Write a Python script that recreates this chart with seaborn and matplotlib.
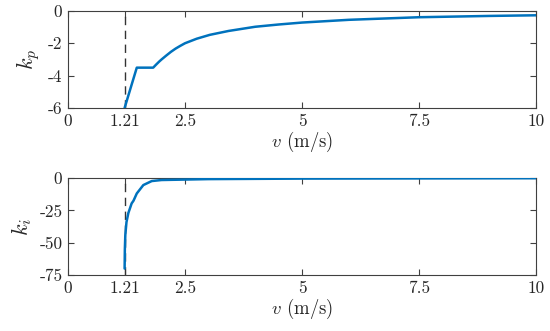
import numpy as np
import pandas as pd
import matplotlib
matplotlib.use('Agg')
import matplotlib.pyplot as plt
import seaborn as sns

# values
kp_v = [1.21, 1.47, 1.82, 1.88, 1.95, 2.0, 2.1, 2.2, 2.3, 2.4, 2.5, 2.75, 3.03, 3.43, 4.0, 4.5, 5.0, 6.0, 7.5, 9.0, 10.0]
kp = [-6.0, -3.51, -3.51, -3.33, -3.13, -3.0, -2.76, -2.53, -2.33, -2.16, -2.0, -1.72, -1.48, -1.24, -0.98, -0.84, -0.72, -0.55, -0.39, -0.31, -0.27]

ki_v = [1.21, 1.215, 1.225, 1.25, 1.29, 1.36, 1.40, 1.47, 1.61, 1.79, 2.0, 3.0, 5.0, 10.0]
ki = [-70, -55, -44, -34, -27, -19.6, -17.5, -11.9, -5.4, -2.3, -1.5, -0.8, -0.4, -0.1]

x_ticks = [0, 1.21, 2.5, 5, 7.5, 10]
x_labels = ['0', '1.21', '2.5', '5', '7.5', '10']
kp_ticks = [0, -2, -4, -6]
ki_ticks = [0, -25, -50, -75]
v_crit = 1.21

sns.set_style('ticks')
plt.rcParams['font.family'] = ['cmr10', 'DejaVu Serif']
plt.rcParams['mathtext.fontset'] = 'cm'
plt.rcParams['axes.unicode_minus'] = False
plt.rcParams['axes.formatter.use_mathtext'] = True

blue = '#0072BD'
edge = '#404040'

fig = plt.figure(figsize=(5.5, 3.31), dpi=100)
ax1 = fig.add_axes([0.1236, 0.674, 0.851, 0.293])
ax2 = fig.add_axes([0.1236, 0.169, 0.851, 0.293])

panels = [
    (ax1, kp_v, kp, kp_ticks, (-6, 0), r'$k_p$'),
    (ax2, ki_v, ki, ki_ticks, (-75, 0), r'$k_i$'),
]

for ax, xs, ys, yt, ylim, lab in panels:
    df = pd.DataFrame({'v': xs, 'k': ys})
    ax.axvline(v_crit, color='#333333', lw=1.0, ls=(0, (6, 4)), zorder=1)
    sns.lineplot(data=df, x='v', y='k', ax=ax, color=blue, lw=1.8,
                 estimator=None, sort=False, zorder=3)
    ax.set_xlim(0, 10)
    ax.set_ylim(*ylim)
    ax.set_xticks(x_ticks)
    ax.set_xticklabels(x_labels)
    ax.set_yticks(yt)
    ax.set_yticklabels([str(t) for t in yt])
    ax.tick_params(direction='in', top=True, right=True, length=4,
                   width=0.8, colors=edge, labelcolor='#262626', labelsize=12.5, pad=4)
    for s in ax.spines.values():
        s.set_color(edge)
        s.set_linewidth(0.8)
    ax.set_xlabel(r'$v$ (m/s)', fontsize=13.5, color='#262626', labelpad=1)
    ax.set_ylabel(lab, fontsize=16, color='#262626', labelpad=4)

fig.savefig('out.png', dpi=100)
